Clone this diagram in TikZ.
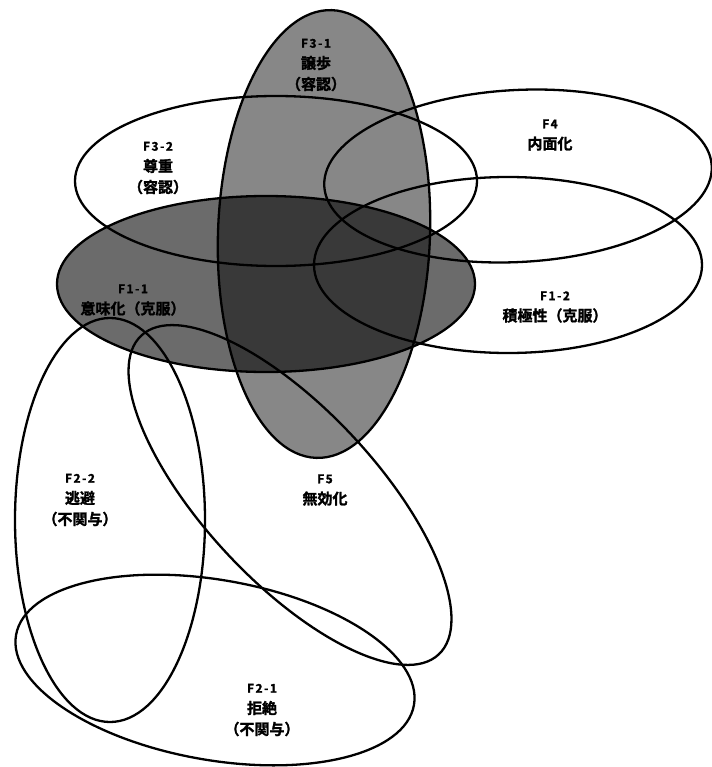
\documentclass[tikz,border=0pt]{standalone}
\usepackage{fontspec}
\setmainfont{Noto Sans CJK JP}
\newfontfamily\lblfont{Noto Sans CJK JP Bold}[FakeBold=1.6]
\usetikzlibrary{positioning}
\newcommand{\fid}[1]{{\fontsize{12bp}{21bp}\selectfont\addfontfeature{LetterSpace=12}#1}}

\begin{document}
\begin{tikzpicture}[
    x=1bp, y=-1bp,
    ring/.style={line width=2.3bp, black},
    shadeA/.style={fill=black, fill opacity=0.47},
    shadeB/.style={fill=black, fill opacity=0.58},
    lbl/.style={align=center, inner sep=0pt, font=\lblfont\fontsize{15bp}{21bp}\selectfont}
]
\useasboundingbox (0,0) rectangle (712,767);

% shaded factors (F3-1 and F1-1)
\fill[shadeA, rotate around={-2:(324,234)}] (324,234) ellipse [x radius=106bp, y radius=224bp];
\fill[shadeB] (266,284) ellipse [x radius=209bp, y radius=88bp];

% outlines
\draw[ring, rotate around={-2:(324,234)}] (324,234) ellipse [x radius=106bp, y radius=224bp];
\draw[ring] (266,284) ellipse [x radius=209bp, y radius=88bp];
\draw[ring] (276,181) ellipse [x radius=201bp, y radius=85bp];
\draw[ring, rotate around={3:(518,176)}] (518,176) ellipse [x radius=194bp, y radius=86bp];
\draw[ring] (508,265) ellipse [x radius=194bp, y radius=88bp];
\draw[ring] (110,520) ellipse [x radius=95bp, y radius=202bp];
\draw[ring, rotate around={-47:(290,495)}] (290,495) ellipse [x radius=218bp, y radius=86bp];
\draw[ring, rotate around={-10:(215,670)}] (215,670) ellipse [x radius=202bp, y radius=90bp];

% labels
\node[lbl] (f31) at (316,65) {\fid{F3-1}\\譲歩\\（容認）};
\node[lbl] (f32) at (158,168) {\fid{F3-2}\\尊重\\（容認）};
\node[lbl] (f4) at (550,135) {\fid{F4}\\内面化};
\node[lbl] (f11) at (133,300) {\fid{F1-1}\\意味化（克服）};
\node[lbl] (f12) at (555,307) {\fid{F1-2}\\積極性（克服）};
\node[lbl] (f22) at (80,500) {\fid{F2-2}\\逃避\\（不関与）};
\node[lbl] (f5) at (325,490) {\fid{F5}\\無効化};
\node[lbl] (f21) at (262,710) {\fid{F2-1}\\拒絶\\（不関与）};
\end{tikzpicture}
\end{document}
